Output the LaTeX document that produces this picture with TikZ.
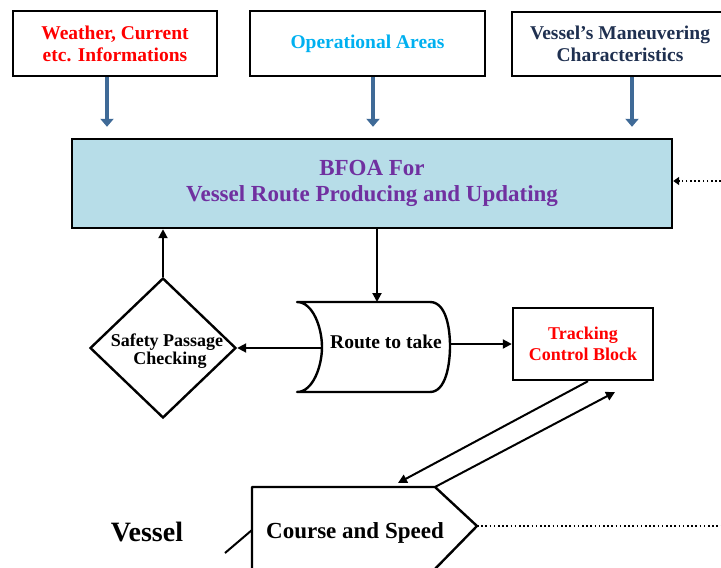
\documentclass[tikz,border=0pt]{standalone}
\usepackage{fontspec}
\setmainfont{Liberation Serif}
\usetikzlibrary{arrows.meta,shapes.geometric,calc}

\definecolor{infored}{HTML}{FF0000}
\definecolor{areacyan}{HTML}{00B0F0}
\definecolor{navytext}{HTML}{1F3050}
\definecolor{bfoapurple}{HTML}{7030A0}
\definecolor{bfoafill}{HTML}{B7DDE8}
\definecolor{feedblue}{HTML}{3F6A97}

\begin{document}
\begin{tikzpicture}[x=1pt,y=-1pt,
  box/.style={draw, line width=2.4pt, inner sep=0pt, align=center,
    font=\bfseries\fontsize{19.5}{22}\selectfont},
  feed/.style={draw=feedblue, line width=4pt, -{Triangle[width=13pt,length=8pt]}},
  link/.style={line width=2pt, -{Triangle[width=9pt,length=9pt]}},
  plain/.style={line width=2pt},
  outline/.style={line width=2.4pt, line join=round},
  dots/.style={line width=1.6pt, dash pattern=on 1.6pt off 2.6pt},
  lbl/.style={inner sep=0pt, align=center}
]
\useasboundingbox (0,0) rectangle (721,568);

% input boxes
\node[box, minimum width=204pt, minimum height=65pt, text=infored]
  (wx) at (115,43.5) {Weather, Current\\etc. Informations};
\node[box, minimum width=235pt, minimum height=65pt, text=areacyan]
  (ops) at (367.5,43.5) {Operational Areas};
\node[box, minimum width=216pt, minimum height=64pt, text=navytext]
  (man) at (620,44) {Vessel’s Maneuvering\\ Characteristics};

% main optimisation block
\node[box, fill=bfoafill, minimum width=600pt, minimum height=89pt, text=bfoapurple,
  font=\bfseries\fontsize{23}{26}\selectfont]
  (main) at (372,183.5) {BFOA For\\Vessel Route Producing and Updating};

% feeds into the main block
\draw[feed] (wx.south -| 107,0) -- ($(main.north -| 107,0)+(0,-11)$);
\draw[feed] (ops.south -| 373,0) -- ($(main.north -| 373,0)+(0,-11)$);
\draw[feed] (man.south -| 632,0) -- ($(main.north -| 632,0)+(0,-11)$);

% dotted feedback from the right
\coordinate (fbin) at (721,181);
\draw[dots, -{Triangle[width=8pt,length=6pt]}] (fbin) -- (main.east |- fbin);

% stored route shape
\draw[outline] (297,302) -- (430,302)
  .. controls (446,302) and (450,328) .. (450,346)
  .. controls (450,364) and (446,392) .. (430,392) -- (297,392)
  .. controls (313,392) and (322,366) .. (322,347)
  .. controls (322,328) and (313,302) .. (297,302) -- cycle;
\coordinate (routeN) at (377,302);
\coordinate (routeW) at (322,348);
\coordinate (routeE) at (450,344);
\node[lbl, font=\bfseries\fontsize{19.5}{22}\selectfont] (route) at (386,342) {Route to take};

% safety check
\node[diamond, draw, line width=2.4pt, inner sep=0pt, minimum width=146pt,
  minimum height=140pt] (safety) at (163,348) {};
\node[lbl, font=\bfseries\fontsize{18}{18.5}\selectfont] (safetytxt) at (167,351)
  {Safety Passage\\\hspace*{6pt}Checking};

% tracking block
\node[box, minimum width=140pt, minimum height=72pt, text=infored,
  font=\bfseries\fontsize{18}{21}\selectfont]
  (track) at (583,344) {Tracking\\Control Block};

% course and speed (runs past the lower edge)
\coordinate (csNW) at (252,487);
\coordinate (csNE) at (435,487);
\coordinate (cstip) at (477,526);
\coordinate (csSE) at (433,571);
\coordinate (csSW) at (252,571);
\draw[outline] (csNW) -- (csNE) -- (cstip) -- (csSE) -- (csSW) -- cycle;
\node[lbl, font=\bfseries\fontsize{23}{26}\selectfont] (course) at (355,533) {Course and Speed};
\node[lbl, font=\bfseries\fontsize{28}{30}\selectfont] (vessel) at (147,532) {Vessel};
\coordinate (vesselin) at (225,553);
\draw[plain] (vesselin) -- (252,530);

% connectors
\draw[link] (main.south -| routeN) -- (routeN);
\draw[link] (routeW) -- (routeW -| safety.east);
\draw[link] (safety.north) -- (safety.north |- main.south);
\draw[link] (routeE) -- (routeE -| track.west);
\coordinate (trackout) at ($(track.south)+(5,0)$);
\coordinate (coursein) at (398,483);
\coordinate (trackin) at (615,392);
\draw[link] (trackout) -- (coursein);
\draw[link] (csNE) -- (trackin);
\draw[dots] (cstip) -- (721,526);
\end{tikzpicture}
\end{document}
